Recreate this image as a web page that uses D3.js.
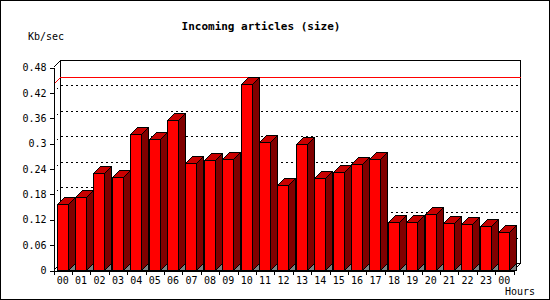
<!DOCTYPE html>
<html>
<head>
<meta charset="utf-8">
<script src="https://cdn.jsdelivr.net/npm/d3@7"></script>
<style>
  body { margin: 0; background: #fff; }
  text { font-family: "DejaVu Sans Mono", monospace; font-size: 10px; fill: #000; }
</style>
</head>
<body>
<svg id="chart"></svg>
<script>
const WIDTH = 550;
const HEIGHT = 300;

const LEFT = 53;
const RIGHT = 513;
const BASE = 270;
const TOP = 67;
const DEPTH = 7;

const hours = ["00","01","02","03","04","05","06","07","08","09","10","11","12",
               "13","14","15","16","17","18","19","20","21","22","23","00"];
const sizes = [0.155, 0.172, 0.229, 0.219, 0.321, 0.309, 0.354, 0.253, 0.259, 0.262,
               0.439, 0.302, 0.200, 0.297, 0.217, 0.231, 0.250, 0.262, 0.113, 0.113,
               0.132, 0.110, 0.108, 0.105, 0.089];
const yTicks = [0, 0.06, 0.12, 0.18, 0.24, 0.3, 0.36, 0.42, 0.48];
const yTickLabels = ["0", "0.06", "0.12", "0.18", "0.24", "0.3", "0.36", "0.42", "0.48"];

const svg = d3.select('#chart').attr('width', WIDTH).attr('height', HEIGHT);

// outer frame
svg.append('rect')
    .attr('x', 0.5).attr('y', 0.5)
    .attr('width', WIDTH - 1).attr('height', HEIGHT - 1)
    .attr('fill', '#fff').attr('stroke', '#000');

const xScale = d3.scaleLinear().domain([0, hours.length]).range([LEFT, RIGHT]);
const yScale = d3.scaleLinear().domain([0, 0.48]).range([BASE, TOP]);

const g = svg.append('g').attr('transform', 'translate(0.5,0.5)')
    .attr('shape-rendering', 'crispEdges');

// back wall
g.append('rect')
    .attr('x', LEFT + DEPTH).attr('y', TOP - DEPTH)
    .attr('width', RIGHT - LEFT).attr('height', BASE - TOP)
    .attr('fill', 'none').attr('stroke', '#000');
g.append('line')
    .attr('x1', LEFT).attr('y1', TOP).attr('x2', LEFT + DEPTH).attr('y2', TOP - DEPTH)
    .attr('stroke', '#000');

// dotted gridlines on side and back wall
const grid = g.append('g');
yTicks.slice(1, -1).forEach(v => {
    const yy = Math.round(yScale(v));
    grid.append('path')
        .attr('d', `M${LEFT},${yy}L${LEFT + DEPTH},${yy - DEPTH}H${RIGHT + DEPTH}`)
        .attr('fill', 'none').attr('stroke', '#000')
        .attr('stroke-dasharray', '2,3');
});

// max value line
const yMax = Math.round(yScale(d3.max(sizes)));
g.append('path')
    .attr('d', `M${LEFT},${yMax}L${LEFT + DEPTH},${yMax - DEPTH}H${RIGHT + DEPTH}`)
    .attr('fill', 'none').attr('stroke', '#ff0000');

// floor
g.append('path')
    .attr('d', `M${LEFT},${BASE}L${LEFT + DEPTH},${BASE - DEPTH}H${RIGHT + DEPTH}L${RIGHT},${BASE}`)
    .attr('fill', 'none').attr('stroke', '#000');

// bars
const bars = g.selectAll('.bar')
    .data(sizes)
    .join('g')
    .attr('class', 'bar');

const barLeft = (_, i) => Math.round(xScale(i) + 3.5);
const BAR_W = 11;

bars.append('path')
    .attr('fill', '#808080').attr('stroke', '#000')
    .attr('d', (d, i) => {
        const xr = barLeft(d, i) + BAR_W;
        return `M${xr},${BASE}L${xr + DEPTH},${BASE - DEPTH}V${BASE}Z`;
    });

bars.append('path')
    .attr('fill', '#800000').attr('stroke', '#000')
    .attr('d', (d, i) => {
        const xr = barLeft(d, i) + BAR_W;
        const yt = Math.round(yScale(d));
        return `M${xr},${yt}L${xr + DEPTH},${yt - DEPTH}V${BASE - DEPTH}L${xr},${BASE}Z`;
    });

bars.append('path')
    .attr('fill', '#c80000').attr('stroke', '#000')
    .attr('d', (d, i) => {
        const x0 = barLeft(d, i);
        const yt = Math.round(yScale(d));
        return `M${x0},${yt}L${x0 + DEPTH},${yt - DEPTH}H${x0 + BAR_W + DEPTH}L${x0 + BAR_W},${yt}Z`;
    });

bars.append('rect')
    .attr('fill', '#ff0000').attr('stroke', '#000')
    .attr('x', barLeft)
    .attr('y', d => Math.round(yScale(d)))
    .attr('width', BAR_W)
    .attr('height', d => BASE - Math.round(yScale(d)));

// y axis
const yAxis = d3.axisLeft(yScale)
    .tickValues(yTicks)
    .tickFormat((d, i) => yTickLabels[i])
    .tickSize(4)
    .tickPadding(3)
    .tickSizeOuter(0);
const yAxisG = g.append('g').attr('transform', `translate(${LEFT},0)`).call(yAxis);
yAxisG.selectAll('text').attr('font-family', null).attr('font-size', null);
yAxisG.selectAll('path, line').attr('stroke', '#000');

// x axis: ticks at slot edges, labels at slot centres
const xAxis = d3.axisBottom(xScale)
    .tickValues(d3.range(hours.length + 1))
    .tickFormat('')
    .tickSize(4)
    .tickSizeOuter(0);
const xAxisG = g.append('g').attr('transform', `translate(0,${BASE})`).call(xAxis);
xAxisG.selectAll('path, line').attr('stroke', '#000');

g.append('g').selectAll('text')
    .data(hours)
    .join('text')
    .attr('x', (d, i) => xScale(i + 0.5))
    .attr('y', 283)
    .attr('text-anchor', 'middle')
    .text(d => d);

// titles
svg.append('text')
    .attr('x', 261).attr('y', 30)
    .attr('text-anchor', 'middle')
    .style('font-size', '11px').style('font-weight', 'bold')
    .text('Incoming articles (size)');

svg.append('text')
    .attr('x', 28).attr('y', 40)
    .text('Kb/sec');

svg.append('text')
    .attr('x', 505).attr('y', 295)
    .text('Hours');
</script>
</body>
</html>
